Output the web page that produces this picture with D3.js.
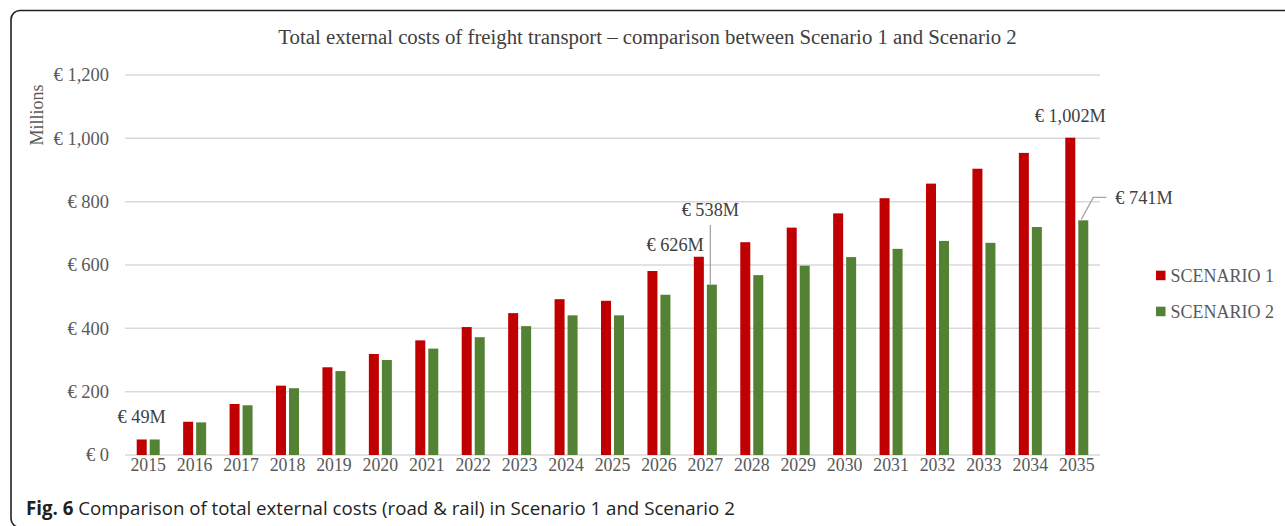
<!DOCTYPE html>
<html>
<head>
<meta charset="utf-8">
<script src="https://cdn.jsdelivr.net/npm/d3@7"></script>
<style>
  html, body { margin: 0; padding: 0; background: #fff; }
  svg { display: block; }
</style>
</head>
<body>
<svg id="chart" width="1285" height="526"></svg>
<script>
const years = ["2015","2016","2017","2018","2019","2020","2021","2022","2023","2024","2025","2026","2027","2028","2029","2030","2031","2032","2033","2034","2035"];
const scenario1 = [49, 105, 161, 219, 277, 319, 362, 404, 448, 492, 487, 581, 626, 672, 718, 763, 811, 857, 904, 954, 1002];
const scenario2 = [49, 103, 157, 211, 265, 300, 336, 372, 407, 441, 441, 506, 538, 568, 598, 625, 651, 676, 670, 720, 741];
const seriesNames = ["SCENARIO 1", "SCENARIO 2"];
const seriesColors = ["#C00000", "#548235"];
const yTicks = [0, 200, 400, 600, 800, 1000, 1200];
const titleText = "Total external costs of freight transport \u2013 comparison between Scenario 1 and Scenario 2";
const captionBold = "Fig. 6";
const captionText = " Comparison of total external costs (road & rail) in Scenario 1 and Scenario 2";

(function () {
const svg = d3.select("#chart");
const serif = "'Liberation Serif', 'Times New Roman', serif";
const textGrey = "#595959";

// frame
svg.append("rect").attr("x", 11).attr("y", 10.5).attr("width", 1320).attr("height", 517)
  .attr("rx", 9).attr("fill", "none").attr("stroke", "#222").attr("stroke-width", 1.6);

const pL = 125, pR = 1100, pT = 75, pB = 455;
const x = d3.scaleBand().domain(years).range([pL, pR]).paddingInner(0).paddingOuter(0);
const y = d3.scaleLinear().domain([0, 1200]).range([pB, pT]);
const barW = 10, gap = 3;

// gridlines
svg.append("g").selectAll("line").data(yTicks).join("line")
  .attr("x1", pL).attr("x2", pR)
  .attr("y1", d => y(d)).attr("y2", d => y(d))
  .attr("stroke", "#D9D9D9").attr("stroke-width", 1.5);

// y axis labels
const yAxis = d3.axisLeft(y).tickValues(yTicks).tickSize(0).tickPadding(0)
  .tickFormat(d => "\u20AC " + d3.format(",")(d));
const gy = svg.append("g").attr("transform", `translate(${pL - 16},0)`).call(yAxis);
gy.select(".domain").remove();
gy.selectAll("text").attr("font-family", serif).attr("font-size", 18.5).attr("fill", textGrey);

// x axis labels
const xAxis = d3.axisBottom(x).tickSize(0).tickPadding(0);
const gx = svg.append("g").attr("transform", `translate(0,${pB + 3})`).call(xAxis);
gx.select(".domain").remove();
gx.selectAll("text").attr("font-family", serif).attr("font-size", 17.8).attr("fill", textGrey);

// bars
const series = [scenario1, scenario2];
series.forEach((vals, si) => {
  svg.append("g").selectAll("rect").data(vals).join("rect")
    .attr("x", (d, i) => x(years[i]) + x.bandwidth() / 2 + (si === 0 ? -(barW + gap / 2) : gap / 2))
    .attr("width", barW)
    .attr("y", d => y(d))
    .attr("height", d => pB - y(d))
    .attr("fill", seriesColors[si]);
});

// data labels
const fmtM = v => "\u20AC " + d3.format(",")(v) + "M";
const lbl = (txt, xx, yy, anchor) => svg.append("text").attr("x", xx).attr("y", yy)
  .attr("text-anchor", anchor).attr("font-family", serif).attr("font-size", 18.3)
  .attr("fill", "#404040").text(txt);
const cx1 = i => x(years[i]) + x.bandwidth() / 2 - gap / 2 - barW / 2;
const cx2 = i => x(years[i]) + x.bandwidth() / 2 + gap / 2 + barW / 2;

lbl(fmtM(scenario1[0]), cx1(0), y(scenario1[0]) - 16, "middle");
lbl(fmtM(scenario1[12]), cx1(12) + 5, y(scenario1[12]) - 6, "end");
svg.append("line").attr("x1", cx2(12) - 1.5).attr("x2", cx2(12) - 1.5)
  .attr("y1", 225).attr("y2", y(scenario2[12])).attr("stroke", "#A6A6A6").attr("stroke-width", 1.3);
lbl(fmtM(scenario2[12]), cx2(12) - 1.5, 216, "middle");
lbl(fmtM(scenario1[20]), cx1(20), y(scenario1[20]) - 16, "middle");
const l2x = cx2(20), l2y = y(scenario2[20]);
svg.append("path").attr("d", `M${l2x - 2},${l2y - 1} L${l2x + 10},${l2y - 23} L${l2x + 23},${l2y - 23}`)
  .attr("fill", "none").attr("stroke", "#A6A6A6").attr("stroke-width", 1.3);
lbl(fmtM(scenario2[20]), l2x + 32, l2y - 16, "start");

// title
svg.append("text").attr("x", 647.5).attr("y", 43.5).attr("text-anchor", "middle")
  .attr("font-family", serif).attr("font-size", 20.8).attr("fill", "#404040").text(titleText);

// y axis title
svg.append("text").attr("transform", "translate(43,115) rotate(-90)")
  .attr("text-anchor", "middle").attr("font-family", serif).attr("font-size", 18)
  .attr("fill", textGrey).text("Millions");

// legend
const leg = svg.append("g");
seriesNames.forEach((name, i) => {
  const ly = 270.7 + i * 36;
  leg.append("rect").attr("x", 1156).attr("y", ly).attr("width", 9.5).attr("height", 9.5).attr("fill", seriesColors[i]);
  leg.append("text").attr("x", 1170.5).attr("y", ly + 11).attr("font-family", serif).attr("font-size", 18)
    .attr("fill", textGrey).text(name);
});

// caption
const cap = svg.append("text").attr("x", 26).attr("y", 515)
  .attr("font-family", "'Open Sans', 'Noto Sans', sans-serif").attr("font-size", 18.7).attr("fill", "#231f20");
cap.append("tspan").attr("font-weight", "bold").text(captionBold);
cap.append("tspan").text(captionText);
})();
</script>
</body>
</html>
